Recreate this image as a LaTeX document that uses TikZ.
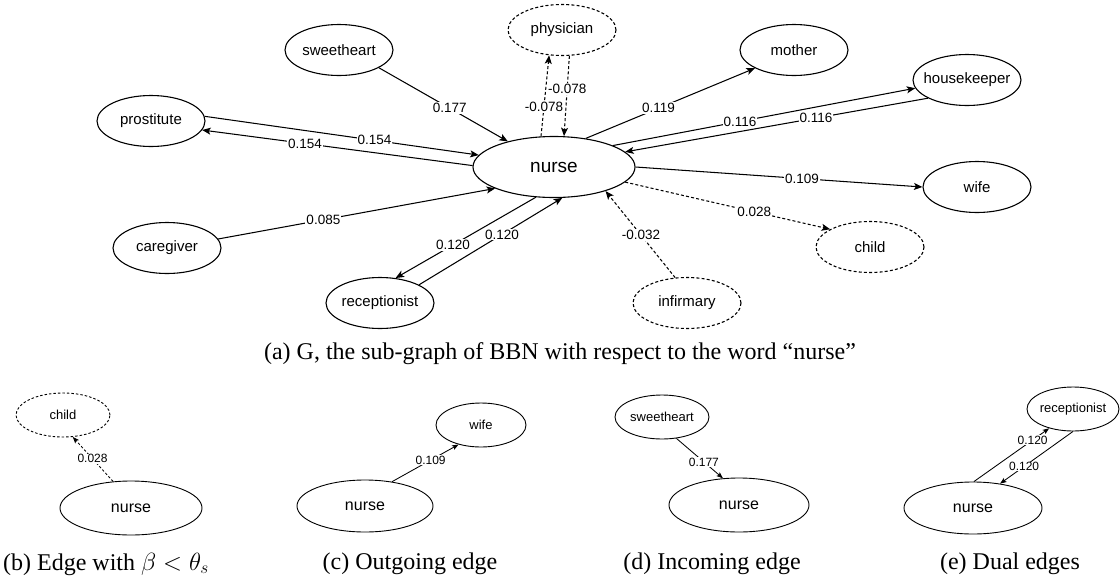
\documentclass[tikz,border=0pt]{standalone}
\usepackage{fontspec}
\setmainfont{Liberation Serif}
\newfontfamily\gsans{Liberation Sans}
\usetikzlibrary{arrows.meta,shapes.geometric}
\newcommand{\zbox}[1]{\makebox[0pt]{#1}}
\begin{document}
\begin{tikzpicture}[x=1pt,y=-1pt,
  mnode/.style={ellipse,draw,line width=1.1pt,inner sep=0pt,minimum width=108pt,minimum height=51pt,font=\gsans\fontsize{15}{18}\selectfont},
  mdash/.style={mnode,dash pattern=on 3pt off 2.2pt},
  mcenter/.style={mnode,minimum width=162pt,minimum height=61pt,font=\gsans\fontsize{19}{22}\selectfont},
  medge/.style={line width=1.05pt,-{Stealth[length=8.5pt,width=7pt,inset=2pt]}},
  medged/.style={medge,dash pattern=on 3pt off 2.2pt},
  mlab/.style={fill=white,inner sep=1pt,font=\gsans\fontsize{13.5}{15}\selectfont},
  snode/.style={ellipse,draw,line width=0.9pt,inner sep=0pt,font=\gsans\fontsize{13}{15}\selectfont},
  sdash/.style={snode,dash pattern=on 2.5pt off 2pt},
  scenter/.style={snode,font=\gsans\fontsize{16}{19}\selectfont},
  sedge/.style={line width=0.85pt,-{Stealth[length=6.5pt,width=5pt,inset=1.5pt]}},
  sedged/.style={sedge,dash pattern=on 2.5pt off 2pt},
  slab/.style={fill=white,inner sep=0.5pt,font=\gsans\fontsize{12}{14}\selectfont},
  captext/.style={font=\fontsize{24}{28}\selectfont,inner sep=0pt}
]
\useasboundingbox (0,0) rectangle (1120,582);

% ---------- main graph ----------
\node[mcenter] (nurse) at (554,167) {\zbox{nurse}};
\node[mnode] (sweetheart) at (339,50) {\zbox{sweetheart}};
\node[mdash] (physician) at (562,30) {\zbox{physician}};
\node[mnode] (mother) at (794,50) {\zbox{mother}};
\node[mnode] (housekeeper) at (967,80) {\zbox{housekeeper}};
\node[mnode] (prostitute) at (151,121) {\zbox{prostitute}};
\node[mnode] (wife) at (977,187) {\zbox{wife}};
\node[mnode] (caregiver) at (167,248) {\zbox{caregiver}};
\node[mdash] (child) at (870,247) {\zbox{child}};
\node[mnode] (receptionist) at (380,303) {\zbox{receptionist}};
\node[mdash] (infirmary) at (687,303) {\zbox{infirmary}};

\draw[medge] (sweetheart.-24) -- node[mlab,pos=0.55]{0.177} (nurse.151);
\draw[medge] (prostitute.5) -- node[mlab,pos=0.62]{0.154} (nurse.171);
\draw[medge] (nurse.179) -- node[mlab,pos=0.62]{0.154} (prostitute.-10);
\draw[medge] (caregiver.10) -- node[mlab,pos=0.38]{0.085} (nurse.200);
\draw[medge] (nurse.239) -- node[mlab,pos=0.59]{0.120} (receptionist.58);
\draw[medge] (receptionist.25) -- node[mlab,pos=0.58]{0.120} (nurse.285);
\draw[medged] (nurse.113) -- node[mlab,pos=0.36]{-0.078} (physician.243);
\draw[medged] (physician.286) -- node[mlab,pos=0.41]{-0.078} (nurse.72);
\draw[medge] (nurse.42) -- node[mlab,pos=0.43]{0.119} (mother.205);
\draw[medge] (nurse.20) -- node[mlab,pos=0.42]{0.116} (housekeeper.189);
\draw[medge] (housekeeper.205) -- node[mlab,pos=0.37]{0.116} (nurse.12);
\draw[medge] (nurse.0) -- node[mlab,pos=0.58]{0.109} (wife.180);
\draw[medged] (nurse.-12) -- node[mlab,pos=0.63]{0.028} (child.156);
\draw[medged] (infirmary.115) -- node[mlab,pos=0.49]{-0.032} (nurse.-25);

\node[captext] (capa) at (560,354) {(a) G, the sub-graph of BBN with respect to the word “nurse”};

% ---------- (b) ----------
\node[sdash,minimum width=94pt,minimum height=44pt] (cb) at (63,415) {\zbox{child}};
\node[scenter,minimum width=142pt,minimum height=54pt] (nb) at (131,508) {\zbox{nurse}};
\draw[sedged] (nb.124) -- node[slab,pos=0.51]{0.028} (cb.-66);
\node[captext] (capb) at (106,564) {(b) Edge with $\beta < \theta_s$};

% ---------- (c) ----------
\node[snode,minimum width=90pt,minimum height=44pt] (wc) at (481,425) {\zbox{wife}};
\node[scenter,minimum width=136pt,minimum height=52pt] (nc) at (365,506) {\zbox{nurse}};
\draw[sedge] (nc.42) -- node[slab,pos=0.58]{0.109} (wc.-139);
\node[captext] (capc) at (410,564) {(c) Outgoing edge};

% ---------- (d) ----------
\node[snode,minimum width=94pt,minimum height=44pt] (sd) at (662,417) {\zbox{sweetheart}};
\node[scenter,minimum width=140pt,minimum height=54pt] (nd) at (739,505) {\zbox{nurse}};
\draw[sedge] (sd.-56) -- node[slab,pos=0.59]{0.177} (nd.121);
\node[captext] (capd) at (712,564) {(d) Incoming edge};

% ---------- (e) ----------
\node[snode,minimum width=92pt,minimum height=44pt] (re) at (1073,409) {\zbox{receptionist}};
\node[scenter,minimum width=138pt,minimum height=52pt] (ne) at (973,508) {\zbox{nurse}};
\draw[sedge] (ne.88) -- node[slab,pos=0.78]{0.120} (re.-141);
\draw[sedge] (re.-90) -- node[slab,pos=0.67]{0.120} (ne.42);
\node[captext] (cape) at (1010,564) {(e) Dual edges};
\end{tikzpicture}
\end{document}
